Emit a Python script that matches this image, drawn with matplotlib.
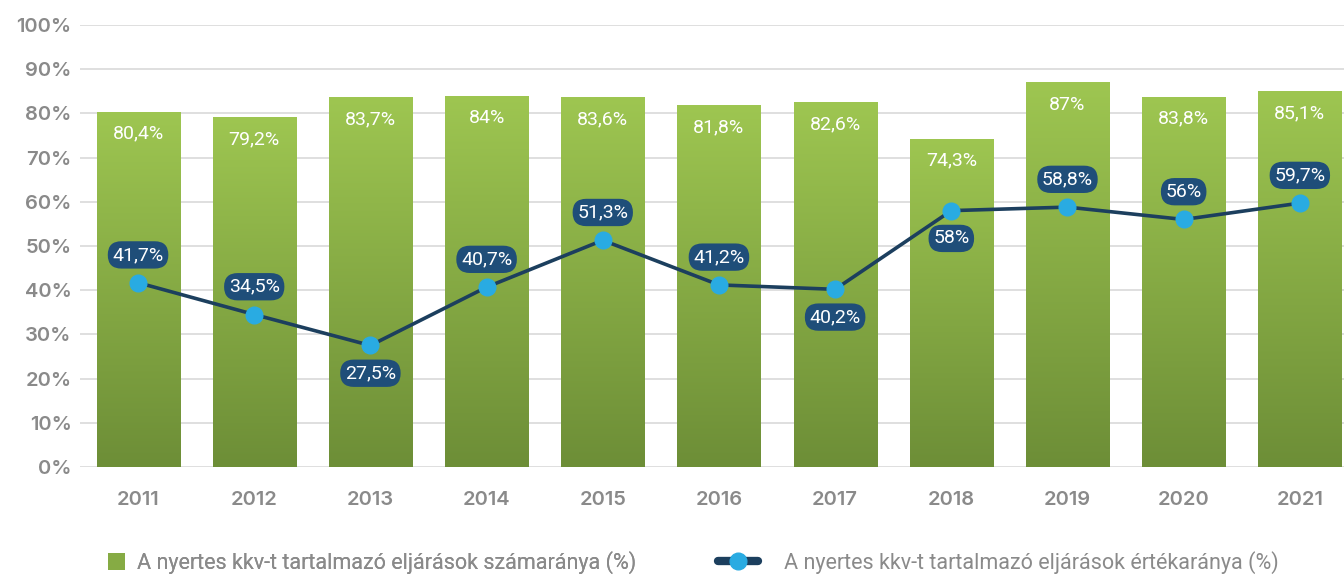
import numpy as np
import matplotlib
matplotlib.use("Agg")
import matplotlib.pyplot as plt
from matplotlib.lines import Line2D
from matplotlib.patches import Patch
from matplotlib.colors import LinearSegmentedColormap

plt.rcParams['font.family'] = ['Inter', 'DejaVu Sans']

years = ["2011", "2012", "2013", "2014", "2015", "2016", "2017", "2018", "2019", "2020", "2021"]
count_share = [80.4, 79.2, 83.7, 84.0, 83.6, 81.8, 82.6, 74.3, 87.0, 83.8, 85.1]
value_share = [41.7, 34.5, 27.5, 40.7, 51.3, 41.2, 40.2, 58.0, 58.8, 56.0, 59.7]
label_below = [False, False, True, False, False, False, True, True, False, False, False]

count_label = "A nyertes kkv-t tartalmazó eljárások számaránya (%)"
value_label = "A nyertes kkv-t tartalmazó eljárások értékaránya (%)"

def fmt(v):
    s = f"{v:.1f}".rstrip("0").rstrip(".")
    return s.replace(".", ",") + "%"

fig = plt.figure(figsize=(13.44, 5.77), dpi=100)
ax = fig.add_axes([0.0595, 0.1906, 0.9405, 0.7661])

x = np.arange(len(years))
green_cmap = LinearSegmentedColormap.from_list("g", ["#6d8e37", "#9ec651"])
grad = np.linspace(0, 1, 256).reshape(-1, 1)

bars = ax.bar(x, count_share, width=0.715, color="none", edgecolor="none", zorder=2)
for b in bars:
    x0, w, h = b.get_x(), b.get_width(), b.get_height()
    im = ax.imshow(grad, cmap=green_cmap, aspect="auto", origin="lower",
                   extent=(x0, x0 + w, 0, h), zorder=2)
    im.set_clip_path(b)

for xi, v in zip(x, count_share):
    ax.annotate(fmt(v), (xi, v), xytext=(0, -16), textcoords="offset points",
                ha="center", va="center", color="white", fontsize=14,
                family=["Roboto", "DejaVu Sans"], zorder=4)

ax.plot(x, value_share, color="#1c3f5e", lw=2.6, marker="o", markersize=12,
        markerfacecolor="#29abe2", markeredgecolor="#29abe2", zorder=5)

for xi, v, below in zip(x, value_share, label_below):
    dy = -20 if below else 20
    ax.annotate(fmt(v), (xi, v), xytext=(0, dy), textcoords="offset points",
                ha="center", va="center", color="white", fontsize=14,
                family=["Roboto", "DejaVu Sans"], zorder=6,
                bbox=dict(boxstyle="round,pad=0.24,rounding_size=0.7",
                          fc="#1f4e79", ec="none"))

ax.set_xlim(-0.5, 10.38)
ax.set_ylim(0, 100)
ax.set_yticks(np.arange(0, 101, 10))
ax.set_yticklabels([f"{t}%" for t in range(0, 101, 10)])
ax.set_xticks(x)
ax.set_xticklabels(years)
ax.tick_params(axis="both", length=0, colors="#8a8a8a", labelsize=14.5)
ax.tick_params(axis="x", pad=17)
ax.tick_params(axis="y", pad=6)
for lab in ax.get_xticklabels() + ax.get_yticklabels():
    lab.set_fontweight("semibold")
ax.grid(axis="y", color="#dcdcdc", lw=1.3, zorder=0)
ax.set_axisbelow(True)
for s in ax.spines.values():
    s.set_visible(False)

leg_font = {"family": ["Roboto", "DejaVu Sans"], "size": 15.5}
h1 = Patch(facecolor="#86ab44", edgecolor="none")
h2 = Line2D([0], [0], color="#1c3f5e", lw=6, solid_capstyle="round", marker="o",
            markersize=12, markerfacecolor="#29abe2", markeredgecolor="#29abe2")
leg1 = fig.legend([h1], [count_label], loc="center left", bbox_to_anchor=(0.0804, 0.025),
                  frameon=False, prop=leg_font, handlelength=0.79, handleheight=0.79,
                  handletextpad=0.56, borderpad=0, borderaxespad=0, labelcolor="#8a8a8a")
leg2 = fig.legend([h2], [value_label], loc="center left", bbox_to_anchor=(0.534, 0.025),
                  frameon=False, prop=leg_font, handlelength=1.85,
                  handletextpad=1.25, borderpad=0, borderaxespad=0, labelcolor="#8a8a8a",
                  numpoints=1)
fig.add_artist(leg1)

fig.savefig("out.png", dpi=100)
